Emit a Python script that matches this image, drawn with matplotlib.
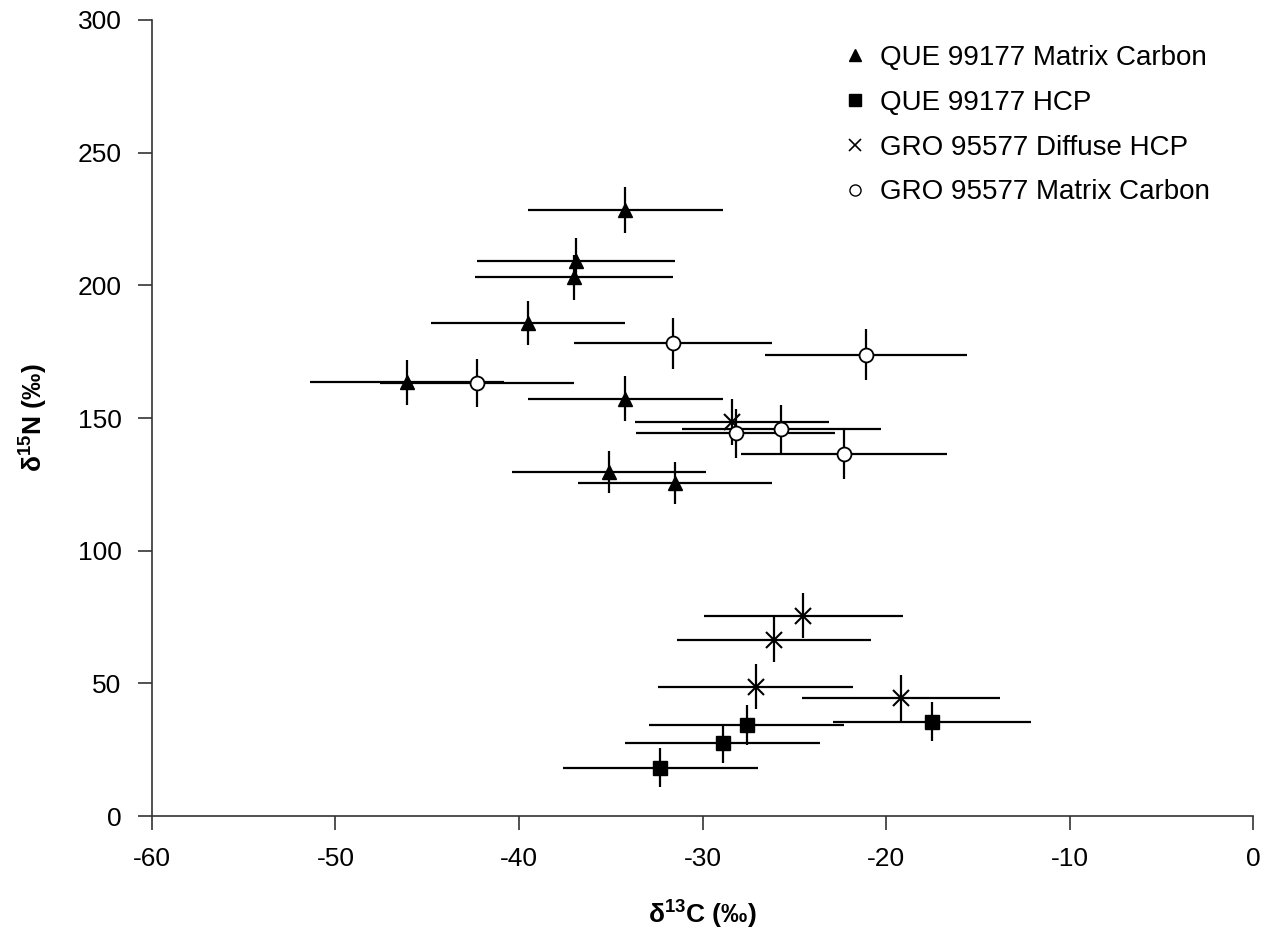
import numpy as np
import matplotlib.pyplot as plt
from matplotlib.lines import Line2D

plt.rcParams['font.family'] = ['Liberation Sans', 'DejaVu Sans']
plt.rcParams['mathtext.fontset'] = 'custom'
plt.rcParams['mathtext.rm'] = 'Liberation Sans'
plt.rcParams['mathtext.bf'] = 'Liberation Sans:bold'
plt.rcParams['axes.unicode_minus'] = False

# QUE 99177 matrix carbon
tri_x = [-34.2, -36.9, -37.0, -39.5, -46.1, -34.2, -35.1, -31.5]
tri_y = [228.4, 209.3, 203.0, 185.7, 163.5, 157.2, 129.7, 125.6]
tri_xerr = [5.3, 5.4, 5.4, 5.3, 5.3, 5.3, 5.3, 5.3]
tri_yerr = [8.7, 8.4, 8.4, 8.3, 8.5, 8.5, 8.0, 8.0]

# QUE 99177 HCP
sq_x = [-27.6, -28.9, -32.3, -17.5]
sq_y = [34.3, 27.4, 18.2, 35.5]
sq_xerr = [5.3, 5.3, 5.3, 5.4]
sq_yerr = [7.4, 7.4, 7.4, 7.4]

# GRO 95577 diffuse HCP
x_x = [-28.4, -24.5, -26.1, -27.1, -19.2]
x_y = [148.5, 75.5, 66.5, 48.7, 44.5]
x_xerr = [5.3, 5.4, 5.3, 5.3, 5.4]
x_yerr = [8.5, 8.5, 8.5, 8.5, 8.5]

# GRO 95577 matrix carbon
c_x = [-42.3, -31.6, -21.1, -28.2, -25.7, -22.3]
c_y = [163.1, 178.1, 173.8, 144.2, 145.7, 136.3]
c_xerr = [5.3, 5.4, 5.5, 5.4, 5.4, 5.6]
c_yerr = [9.0, 9.6, 9.6, 9.2, 9.2, 9.2]

fig = plt.figure(figsize=(12.73, 9.34), dpi=100)
ax = fig.add_axes([0.1194, 0.1263, 0.8649, 0.8523])

eb = dict(fmt='none', ecolor='black', elinewidth=1.6, capsize=0, zorder=2)
ax.errorbar(tri_x, tri_y, xerr=tri_xerr, yerr=tri_yerr, **eb)
ax.errorbar(sq_x, sq_y, xerr=sq_xerr, yerr=sq_yerr, **eb)
ax.errorbar(x_x, x_y, xerr=x_xerr, yerr=x_yerr, **eb)
ax.errorbar(c_x, c_y, xerr=c_xerr, yerr=c_yerr, **eb)

ax.plot(tri_x, tri_y, '^', color='black', ms=10, ls='none', zorder=3)
ax.plot(sq_x, sq_y, 's', color='black', ms=10, ls='none', zorder=3)
ax.plot(x_x, x_y, 'x', color='black', ms=11, mew=1.5, ls='none', zorder=3)
ax.plot(c_x, c_y, 'o', mfc='white', mec='black', ms=10, mew=1.3, ls='none', zorder=3)

handles = [
    Line2D([], [], marker='^', color='black', ls='none', ms=9),
    Line2D([], [], marker='s', color='black', ls='none', ms=8),
    Line2D([], [], marker='x', color='black', ls='none', ms=9, mew=1.2),
    Line2D([], [], marker='o', mfc='white', mec='black', ls='none', ms=8),
]
labels = ['QUE 99177 Matrix Carbon', 'QUE 99177 HCP',
          'GRO 95577 Diffuse HCP', 'GRO 95577 Matrix Carbon']
fig.legend(handles, labels, loc='upper left', bbox_to_anchor=(0.663, 0.952),
           frameon=False, fontsize=20, handlelength=0.8, handletextpad=0.5,
           labelspacing=0.68, borderpad=0, borderaxespad=0)

ax.set_xlim(-60, 0)
ax.set_ylim(0, 300)
ax.set_xticks(np.arange(-60, 1, 10))
ax.set_yticks(np.arange(0, 301, 50))
ax.spines['top'].set_visible(False)
ax.spines['right'].set_visible(False)
for s in ['left', 'bottom']:
    ax.spines[s].set_color('#333333')
    ax.spines[s].set_linewidth(1.2)
ax.tick_params(direction='out', length=10, width=1.2, color='#333333',
               labelsize=19, pad=12)

ax.set_xlabel('δ$\\mathbf{^{13}}$C (‰)', fontsize=19, fontweight='bold', labelpad=20)
ax.set_ylabel('δ$\\mathbf{^{15}}$N (‰)', fontsize=19, fontweight='bold', labelpad=20)

fig.savefig('out.png', dpi=100)
